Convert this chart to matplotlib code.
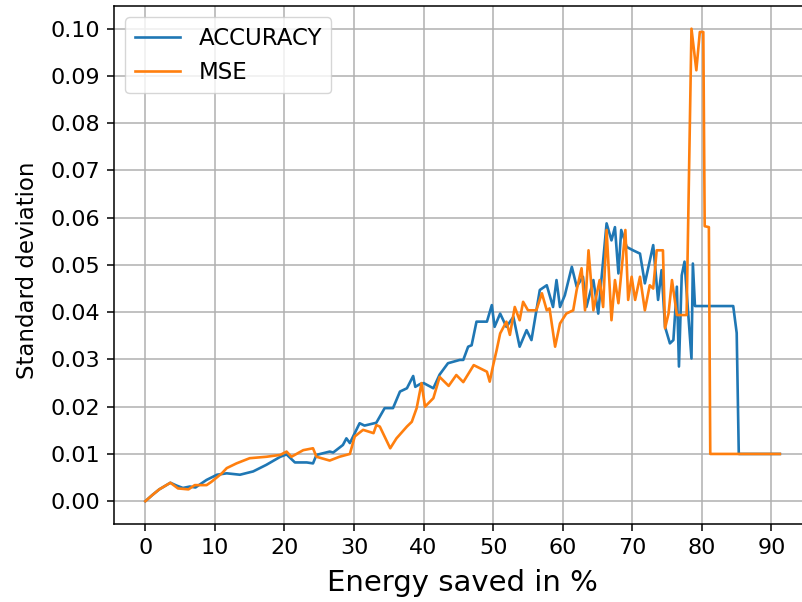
import matplotlib
matplotlib.use("Agg")
import matplotlib.pyplot as plt

# values
acc_x = [0, 1, 2, 3.6, 4.5, 5.4, 6.4, 7.2, 8.8, 10.3, 11.7, 13.6, 15.5, 17.4, 19.4, 20.3,
         21.5, 23.2, 24.1, 24.6, 26.5, 27, 28.4, 28.9, 29.4, 30.8, 31.5, 33.2, 34.4, 35.6,
         36.6, 37.6, 38.5, 38.8, 39.5, 40, 41.4, 42.3, 43.5, 45.2, 45.7, 46.4, 46.9, 47.6,
         49.1, 49.8, 50.2, 51, 51.9, 52.9, 53.8, 54.8, 55.5, 56.7, 57.7, 58.6, 59.1, 59.6,
         60.3, 61.3, 62, 62.9, 63.4, 64.4, 65.1, 66.3, 67, 67.5, 68, 68.4, 69.2, 70.1, 71.1,
         71.8, 73, 73.7, 74.2, 74.7, 75.4, 75.9, 76.4, 76.7, 77.1, 77.5, 78, 78.5, 78.7, 79,
         84.5, 85, 85.3, 91.2]
acc_y = [0, 0.0013, 0.0025, 0.0039, 0.0033, 0.0028, 0.0031, 0.0029, 0.0045, 0.0056, 0.0059,
         0.0056, 0.0063, 0.0077, 0.0094, 0.0099, 0.0082, 0.0082, 0.008, 0.0098, 0.0105, 0.0103,
         0.0119, 0.0133, 0.0123, 0.0165, 0.016, 0.0166, 0.0197, 0.0197, 0.0232, 0.0239, 0.0265,
         0.0242, 0.0248, 0.025, 0.0239, 0.0268, 0.0292, 0.0299, 0.0299, 0.0327, 0.033, 0.038,
         0.038, 0.0415, 0.0369, 0.0397, 0.0369, 0.039, 0.0327, 0.0362, 0.0341, 0.0447, 0.0457,
         0.0411, 0.0468, 0.0411, 0.0436, 0.0496, 0.0454, 0.0475, 0.0411, 0.0468, 0.0397, 0.0588,
         0.0552, 0.058, 0.0482, 0.0574, 0.0538, 0.0531, 0.0524, 0.0461, 0.0542, 0.0426, 0.0489,
         0.0369, 0.0334, 0.0341, 0.0454, 0.0285, 0.0478, 0.0507, 0.0404, 0.0302, 0.0503, 0.0413,
         0.0413, 0.0356, 0.01, 0.01]

mse_x = [0, 1, 2, 3.6, 4.7, 6.2, 7.1, 8.8, 9.5, 11, 11.7, 13.1, 15, 17.4, 19.4, 20.3, 21,
         22.7, 24.1, 24.6, 26.5, 27.9, 29.4, 30.1, 31.3, 32.8, 33.2, 33.7, 35.2, 36.1, 37.6,
         38.3, 39, 39.7, 40.2, 41.4, 42.3, 43.6, 44.7, 45.7, 47.2, 49.1, 49.5, 50, 50.5, 51,
         51.9, 52.4, 53.1, 53.8, 54.3, 55, 56.2, 57, 57.7, 58.1, 58.9, 59.6, 60.5, 61.5, 62,
         62.7, 63.2, 63.7, 64.4, 65.3, 65.8, 66.3, 67, 67.5, 68, 69, 69.4, 69.9, 70.4, 71.1,
         71.8, 72.5, 73, 73.5, 74.4, 74.7, 75.2, 75.7, 76.4, 77.8, 78.5, 79.2, 79.7, 80.2,
         80.4, 81, 81.2, 91.2]
mse_y = [0, 0.0013, 0.0025, 0.0039, 0.0027, 0.0025, 0.0034, 0.0034, 0.0041, 0.0059, 0.007,
         0.008, 0.0091, 0.0094, 0.0098, 0.0105, 0.0094, 0.0108, 0.0112, 0.0094, 0.0086, 0.0094,
         0.01, 0.0137, 0.0151, 0.0144, 0.0161, 0.0158, 0.0112, 0.0133, 0.0158, 0.0168, 0.0197,
         0.025, 0.02, 0.0218, 0.0263, 0.0244, 0.0267, 0.0252, 0.0288, 0.0274, 0.0253, 0.0288,
         0.032, 0.0355, 0.038, 0.0352, 0.0411, 0.0383, 0.0422, 0.0404, 0.0404, 0.044, 0.0404,
         0.0408, 0.0327, 0.0376, 0.0397, 0.0404, 0.0447, 0.0493, 0.0404, 0.0531, 0.0404, 0.0468,
         0.0411, 0.0574, 0.0383, 0.0468, 0.0419, 0.0574, 0.0426, 0.0475, 0.0426, 0.0475, 0.0404,
         0.0457, 0.045, 0.0531, 0.0531, 0.0366, 0.0397, 0.0468, 0.0394, 0.0394, 0.1, 0.0912,
         0.0993, 0.0993, 0.0582, 0.058, 0.01, 0.01]

xticks = [0, 10, 20, 30, 40, 50, 60, 70, 80, 90]
yticks = [0.00, 0.01, 0.02, 0.03, 0.04, 0.05, 0.06, 0.07, 0.08, 0.09, 0.10]

fig = plt.figure(figsize=(8.03, 6.02), dpi=100)
ax = fig.add_axes([0.142, 0.129, 0.869, 0.861])

ax.plot(acc_x, acc_y, color="#1f77b4", linewidth=1.9, label="ACCURACY")
ax.plot(mse_x, mse_y, color="#ff7f0e", linewidth=1.9, label="MSE")

ax.set_xlim(-4.5, 95.8)
ax.set_ylim(-0.0049, 0.1048)
ax.set_xticks(xticks)
ax.set_yticks(yticks)
ax.set_yticklabels(["%.2f" % v for v in yticks])
ax.tick_params(labelsize=16, length=5, width=1.1, pad=5)
for s in ax.spines.values():
    s.set_linewidth(1.1)

ax.grid(True, color="#b0b0b0", linewidth=1.1)
ax.set_xlabel("Energy saved in %", fontsize=21, labelpad=8)
ax.set_ylabel("Standard deviation", fontsize=16.5)
ax.yaxis.set_label_coords(-0.108, 0.49)
ax.legend(loc="upper left", fontsize=16.5, handlelength=2.0)

fig.savefig("out.png", dpi=100)
